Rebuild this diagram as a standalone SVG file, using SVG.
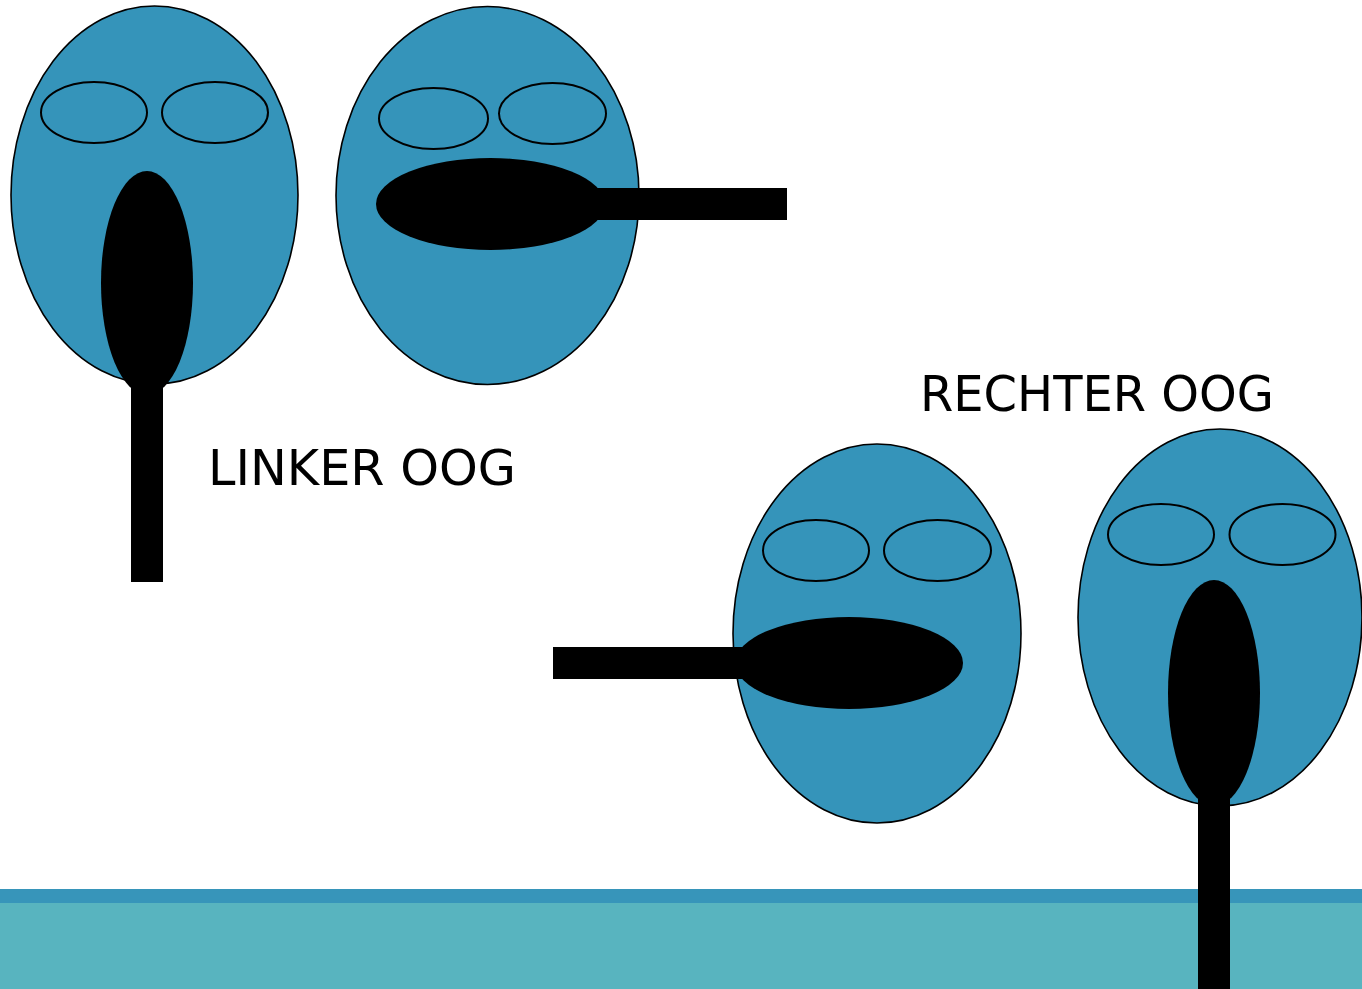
<svg xmlns="http://www.w3.org/2000/svg" width="1362" height="989" viewBox="0 0 1362 989">
  <style>
    .head { fill: #3594BA; stroke: #000; stroke-width: 1.6; }
    .eye { fill: none; stroke: #000; stroke-width: 2; }
    .spoon { fill: #000; }
    .label { font-family: "DejaVu Sans", Verdana, sans-serif; font-size: 49px; fill: #000; }
  </style>
  <rect width="1362" height="989" fill="#fff"/>

  <!-- water -->
  <g id="water">
    <rect x="0" y="889" width="1362" height="15" fill="#3795BA"/>
    <rect x="0" y="903" width="1362" height="86" fill="#58B4BF"/>
  </g>

  <!-- top-left head, spoon pointing down -->
  <g id="head-1">
    <ellipse class="head" cx="154.5" cy="195" rx="143.5" ry="189"/>
    <ellipse class="eye" cx="94" cy="112.5" rx="53" ry="30.5"/>
    <ellipse class="eye" cx="215" cy="112.5" rx="53" ry="30.5"/>
    <ellipse class="spoon" cx="147" cy="283" rx="46" ry="112"/>
    <rect class="spoon" x="131" y="380" width="32" height="202"/>
  </g>

  <!-- top-right head, spoon pointing right -->
  <g id="head-2">
    <ellipse class="head" cx="487.5" cy="195.5" rx="151.5" ry="189"/>
    <ellipse class="eye" cx="433.5" cy="118.5" rx="54.5" ry="30.5"/>
    <ellipse class="eye" cx="552.5" cy="113.5" rx="53.5" ry="30.5"/>
    <ellipse class="spoon" cx="490.5" cy="204" rx="114.5" ry="46"/>
    <rect class="spoon" x="590" y="188" width="197" height="32"/>
  </g>

  <!-- lower-left head, spoon pointing left -->
  <g id="head-3">
    <ellipse class="head" cx="877" cy="633.5" rx="144" ry="189.5"/>
    <ellipse class="eye" cx="816" cy="550.5" rx="53" ry="30.5"/>
    <ellipse class="eye" cx="937.5" cy="550.5" rx="53.5" ry="30.5"/>
    <ellipse class="spoon" cx="849" cy="663" rx="114" ry="46"/>
    <rect class="spoon" x="553" y="647" width="197" height="32"/>
  </g>

  <!-- lower-right head, spoon pointing down into the water -->
  <g id="head-4">
    <ellipse class="head" cx="1220" cy="617.5" rx="142" ry="188.5"/>
    <ellipse class="eye" cx="1161" cy="534.5" rx="53" ry="30.5"/>
    <ellipse class="eye" cx="1282.5" cy="534.5" rx="53" ry="30.5"/>
    <ellipse class="spoon" cx="1214" cy="693" rx="46" ry="113"/>
    <rect class="spoon" x="1198" y="790" width="32" height="199"/>
  </g>

  <g id="labels">
    <text class="label" x="208" y="485" textLength="308" lengthAdjust="spacingAndGlyphs">LINKER OOG</text>
    <text class="label" x="920" y="411" textLength="354" lengthAdjust="spacingAndGlyphs">RECHTER OOG</text>
  </g>
</svg>
